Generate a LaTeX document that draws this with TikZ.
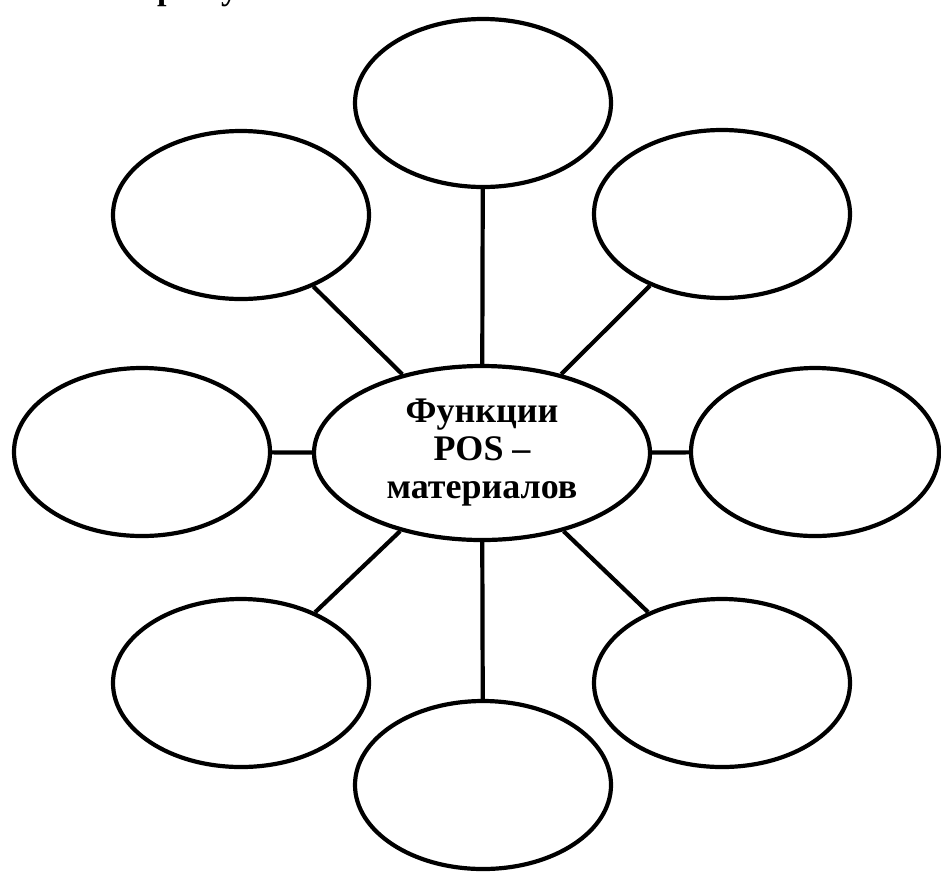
\documentclass[tikz,border=0pt]{standalone}
\usepackage{fontspec}
\setmainfont{Liberation Serif}
\usetikzlibrary{shapes.geometric}
\begin{document}
\begin{tikzpicture}[x=1pt,y=-1pt,
  oval/.style={draw,ellipse,line width=4.2pt,minimum width=256pt,minimum height=168pt,inner sep=0pt},
  link/.style={line width=4.2pt},
  cuttext/.style={font=\bfseries\fontsize{34}{34}\selectfont,anchor=base west,inner sep=0pt}]
\useasboundingbox (0,0) rectangle (941,887);
\begin{scope}
\clip (0,0) rectangle (941,887);
\node[cuttext] (cut1) at (157,-1) {р};
\node[cuttext] (cut2) at (221,-1) {у};
\node[oval] (t) at (483,103) {};
\node[oval] (ul) at (241,215) {};
\node[oval] (ur) at (722,214) {};
\node[oval] (l) at (142,452) {};
\node[oval,minimum width=248pt] (r) at (815,452) {};
\node[oval] (ll) at (241,683) {};
\node[oval] (lr) at (722,683) {};
\node[oval] (b) at (483,785) {};
\node[oval,minimum width=336pt,minimum height=174pt,align=center,
  font=\bfseries\fontsize{36}{38}\selectfont] (c) at (482,453) {Функции\\POS –\\материалов};
\draw[link] (t) -- (c);
\draw[link] (b) -- (c);
\draw[link] (l) -- (c);
\draw[link] (r) -- (c);
\draw[link] (ul) -- (c);
\draw[link] (ur) -- (c);
\draw[link] (ll) -- (c);
\draw[link] (lr) -- (c);
\end{scope}
\end{tikzpicture}
\end{document}
